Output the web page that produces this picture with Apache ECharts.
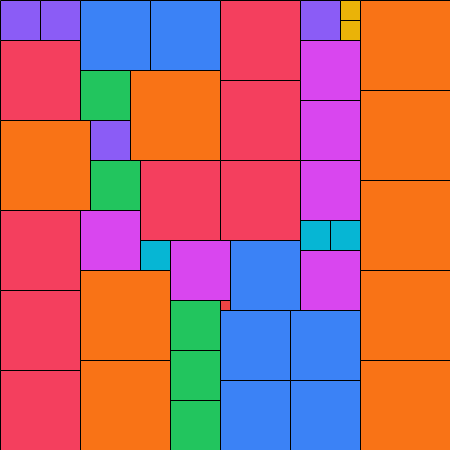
<!DOCTYPE html>
<html>
<head>
<meta charset="utf-8">
<style>
  html, body { margin: 0; padding: 0; background: #ffffff; }
  #main { width: 450px; height: 450px; }
</style>
<script src="https://cdn.jsdelivr.net/npm/echarts@6/dist/echarts.min.js"></script>
</head>
<body>
<div id="main"></div>
<script>
// partridge packing: n squares of side n (in units of 10px), 45 x 45 board
const sizes = [1, 2, 3, 4, 5, 6, 7, 8, 9];
const sizeColors = ["#ef4444", "#eab308", "#06b6d4", "#8b5cf6", "#22c55e", "#d946ef", "#3b82f6", "#f43f5e", "#f97316"];

// top-left corner of every square, grouped by side
const squares1 = [[22, 30]];
const squares2 = [[34, 0], [34, 2]];
const squares3 = [[14, 24], [30, 22], [33, 22]];
const squares4 = [[0, 0], [4, 0], [9, 12], [30, 0]];
const squares5 = [[8, 7], [9, 16], [17, 30], [17, 35], [17, 40]];
const squares6 = [[30, 4], [30, 10], [8, 21], [17, 24], [30, 16], [30, 25]];
const squares7 = [[8, 0], [15, 0], [23, 24], [22, 31], [22, 38], [29, 31], [29, 38]];
const squares8 = [[0, 4], [22, 0], [22, 8], [14, 16], [22, 16], [0, 21], [0, 29], [0, 37]];
const squares9 = [[0, 12], [13, 7], [8, 27], [8, 36], [36, 0], [36, 9], [36, 18], [36, 27], [36, 36]];

const groups = [squares1, squares2, squares3, squares4, squares5, squares6, squares7, squares8, squares9];

let data = [];
groups.forEach((g, i) => {
  g.forEach(p => {
    data.push({ value: [p[0], p[1], sizes[i]], itemStyle: { color: sizeColors[i] } });
  });
});

let myChart = echarts.init(document.getElementById("main"));
myChart.setOption({
  animation: false,
  grid: { left: 0, right: 0, top: 0, bottom: 0 },
  xAxis: { type: "value", min: 0, max: 45, show: false },
  yAxis: { type: "value", min: 0, max: 45, inverse: true, show: false },
  series: [
    {
      type: "custom",
      data: data,
      renderItem: function (params, api) {
        let p = api.coord([api.value(0), api.value(1)]);
        let s = api.size([api.value(2), api.value(2)]);
        return {
          type: "rect",
          shape: { x: p[0] + 0.5, y: p[1] + 0.5, width: s[0], height: s[1] },
          style: { fill: api.visual("color"), stroke: "#000", lineWidth: 1 }
        };
      }
    }
  ]
});
</script>
</body>
</html>
